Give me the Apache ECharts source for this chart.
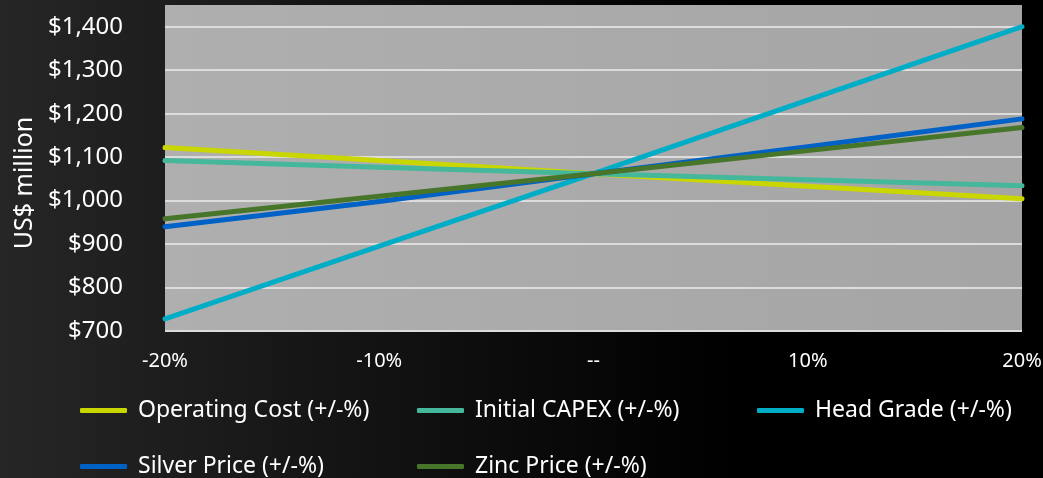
<!DOCTYPE html>
<html>
<head>
<meta charset="utf-8">
<script src="https://cdn.jsdelivr.net/npm/echarts@6/dist/echarts.min.js"></script>
<style>
html, body { margin: 0; padding: 0; background: #000; }
#chart { width: 1043px; height: 478px; }
</style>
</head>
<body>
<div id="chart"></div>
<script>
var categories = ["-20%", "-10%", "--", "10%", "20%"];
var operatingCost = [1122, 1092, 1062, 1033, 1004];
var initialCapex = [1092, 1077, 1062, 1048, 1034];
var headGrade = [728, 895, 1062, 1231, 1400];
var silverPrice = [940, 998, 1062, 1124, 1188];
var zincPrice = [958, 1010, 1062, 1115, 1168];

var names = ["Operating Cost (+/-%)", "Initial CAPEX (+/-%)", "Head Grade (+/-%)", "Silver Price (+/-%)", "Zinc Price (+/-%)"];
var colors = ["#cad600", "#45b79b", "#00adc6", "#0062c6", "#47752a"];
var values = [operatingCost, initialCapex, headGrade, silverPrice, zincPrice];
var legendPos = [[80, 399], [417, 399], [757, 399], [80, 455], [417, 455]];

var chart = echarts.init(document.getElementById("chart"));

var legends = names.map(function (n, i) {
    return {
        data: [n],
        left: legendPos[i][0],
        top: legendPos[i][1],
        padding: 0,
        icon: "roundRect",
        itemWidth: 47,
        itemHeight: 5,
        itemGap: 0,
        textStyle: {
            color: "#fff",
            fontSize: 23,
            fontFamily: "Noto Sans",
            padding: [0, 0, 0, 6]
        }
    };
});

var series = names.map(function (n, i) {
    return {
        name: n,
        type: "line",
        data: values[i],
        symbol: "none",
        color: colors[i],
        lineStyle: { width: 5, cap: "round", join: "round" }
    };
});

chart.setOption({
    animation: false,
    backgroundColor: {
        type: "linear", x: 0, y: 0, x2: 1, y2: 0,
        colorStops: [{ offset: 0, color: "#262626" }, { offset: 0.7, color: "#000" }, { offset: 1, color: "#000" }]
    },
    legend: legends,
    grid: {
        left: 165,
        right: 21,
        top: 5,
        bottom: 147,
        outerBoundsMode: "none",
        show: true,
        borderWidth: 0,
        backgroundColor: {
            type: "linear", x: 0, y: 0, x2: 1, y2: 0,
            colorStops: [{ offset: 0, color: "#afafaf" }, { offset: 1, color: "#a5a5a5" }]
        }
    },
    xAxis: {
        type: "category",
        data: categories,
        boundaryGap: false,
        axisLine: { show: false },
        axisTick: { show: false },
        splitLine: { show: false },
        axisLabel: {
            color: "#fff",
            fontSize: 20,
            fontFamily: "Noto Sans",
            margin: 20
        }
    },
    yAxis: {
        type: "value",
        min: 700,
        max: 1450,
        interval: 100,
        name: "US$ million",
        nameLocation: "middle",
        nameGap: 126,
        nameTextStyle: { color: "#fff", fontSize: 25, fontFamily: "Noto Sans", padding: [0, 30, 0, 0] },
        axisLine: { show: false },
        axisTick: { show: false },
        splitLine: {
            showMaxLine: false,
            lineStyle: { color: "#dcdcdc", width: 2 }
        },
        axisLabel: {
            color: "#fff",
            fontSize: 24,
            fontFamily: "Noto Sans",
            margin: 42,
            showMaxLabel: false,
            formatter: function (v) {
                if (v > 1400) return "";
                return "$" + v.toLocaleString("en-US");
            }
        }
    },
    series: series
});
window.addEventListener("resize", chart.resize);
</script>
</body>
</html>
